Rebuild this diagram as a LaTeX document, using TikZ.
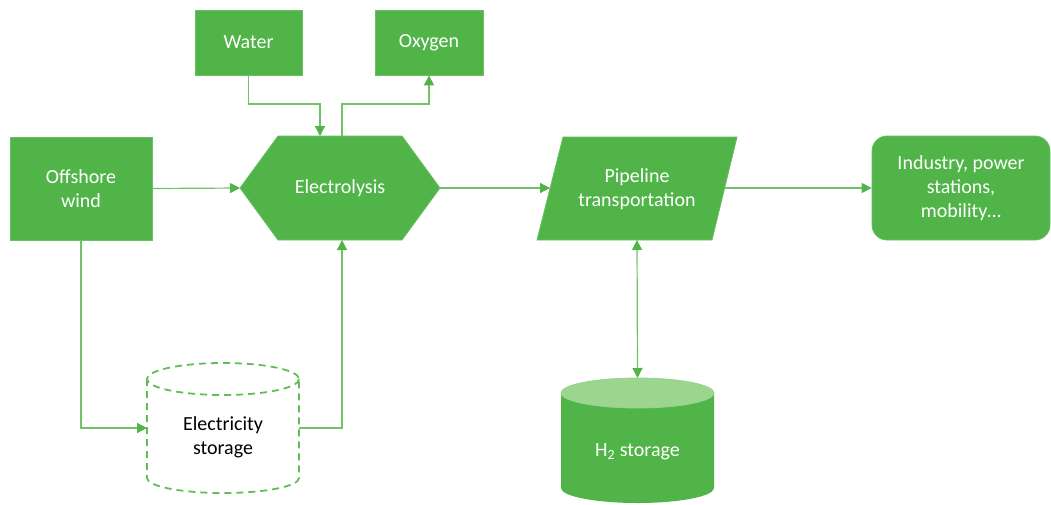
\documentclass[tikz,border=0pt]{standalone}
\usepackage{fontspec}
\setmainfont{Carlito}
\usetikzlibrary{arrows.meta,calc}
\definecolor{gmain}{RGB}{80,180,72}
\definecolor{gline}{RGB}{112,196,102}
\definecolor{glight}{RGB}{156,214,142}
\definecolor{gdash}{RGB}{96,190,86}
\begin{document}
\begin{tikzpicture}[x=1pt,y=-1pt,
  lbl/.style={font=\fontsize{20}{24}\selectfont, align=center, inner sep=0pt},
  box/.style={lbl, fill=gmain, draw=gmain!85!white, line width=0.8pt, text=white},
  shapefill/.style={fill=gmain, draw=gmain!85!white, line width=0.8pt},
  conn/.style={draw=gline, line width=1.2pt, -{Triangle[length=10pt,width=10pt,color=gmain]}},
  biconn/.style={draw=gline, line width=1.2pt, {Triangle[length=10pt,width=10pt,color=gmain]}-{Triangle[length=10pt,width=10pt,color=gmain]}}
]
\useasboundingbox (0,0) rectangle (1051,504);

% plain boxes
\node[box, minimum width=142pt, minimum height=103pt] (wind) at (81,188.5) {Offshore\\wind};
\node[box, minimum width=107pt, minimum height=65pt] (water) at (248.5,42.5) {Water};
\node[box, minimum width=108pt, minimum height=65pt] (oxygen) at (429,42.5) {Oxygen};
\node[box, rounded corners=15pt, minimum width=178pt, minimum height=104pt] (use) at (961,188) {Industry, power\\stations,\\mobility\dots};

% electrolysis hexagon
\draw[shapefill] (240,188) -- (278,136) -- (402,136) -- (440,188) -- (402,240) -- (278,240) -- cycle;
\node[lbl, text=white] (elec) at (340,188) {Electrolysis};
\coordinate (elW) at (240,188);
\coordinate (elE) at (440,188);
\coordinate (elTin) at (320,136);
\coordinate (elTout) at (342,136);
\coordinate (elB) at (342,240);

% pipeline parallelogram
\draw[shapefill] (563,137) -- (737,137) -- (712,240) -- (537,240) -- cycle;
\node[lbl, text=white] (pipe) at (637,189) {Pipeline\\transportation};
\coordinate (pipeW) at (550,188);
\coordinate (pipeE) at (725,188);
\coordinate (pipeS) at (637,240);

% electricity storage (dashed cylinder); y grows downward, so the lower rim runs 180 -> 0
\begin{scope}[draw=gdash, line width=1.8pt, dash pattern=on 7pt off 5pt]
  \draw (223,379) ellipse [x radius=76, y radius=16];
  \draw (147,379) -- (147,478) arc[start angle=180, end angle=0, x radius=76, y radius=15] -- (299,379);
\end{scope}
\node[lbl, text=black] (estore) at (223,437) {Electricity\\storage};
\coordinate (esW) at (147,428);
\coordinate (esE) at (299,428);

% hydrogen storage (solid cylinder)
\fill[gmain] (561,393) -- (561,488) arc[start angle=180, end angle=0, x radius=76.5, y radius=15] -- (714,393) -- cycle;
\draw[fill=glight, draw=gmain!60!white, line width=0.8pt] (637.5,393) ellipse [x radius=76.5, y radius=15];
\node[lbl, text=white] (h2) at (637.5,452) {H\textsubscript{2} storage};
\coordinate (h2T) at (637.5,378);

% connectors
\draw[conn] (wind.east) -- (elW);
\draw[conn] (elE) -- (pipeW);
\draw[conn] (pipeE) -- (use.west);
\coordinate (wj) at (320,104);
\draw[conn] (water.south) |- (wj) -- (elTin);
\coordinate (oj) at (342,104);
\draw[conn] (elTout) -- (oj) -| (oxygen.south);
\draw[conn] (wind.south) |- (esW);
\draw[conn] (esE) -| (elB);
\draw[biconn] (pipeS) -- (h2T);
\end{tikzpicture}
\end{document}
